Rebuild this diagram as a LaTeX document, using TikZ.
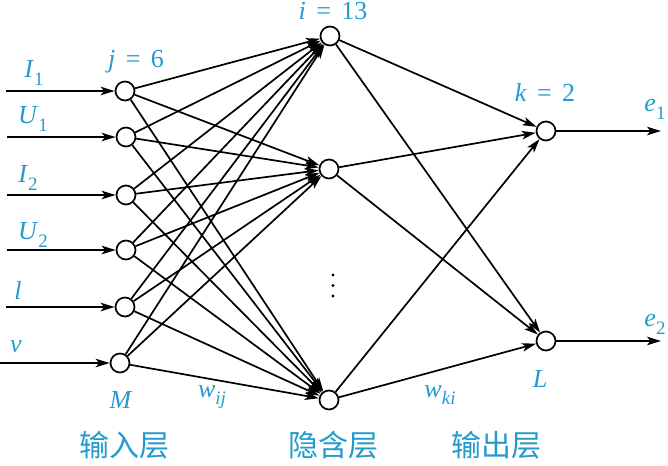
\documentclass[tikz,border=0pt]{standalone}
\usepackage{fontspec}
\setmainfont{Liberation Serif}
\newfontfamily\cjk{Noto Sans CJK SC}
\usetikzlibrary{arrows.meta}
\definecolor{lblc}{RGB}{35,155,205}
\newcommand{\lsub}[2]{\textit{#1}\raisebox{-0.3em}{\fontsize{19}{19}\selectfont #2}}
\newcommand{\lbleqn}[2]{\textit{#1}\hspace{0.4em}=\hspace{0.4em}#2}
\tikzset{
  neuron/.style={circle,draw,line width=1.7pt,minimum size=19pt,inner sep=0pt,fill=white},
  conn/.style={line width=1.7pt,-{Stealth[length=14pt,width=8.5pt,inset=3.5pt]}},
  lbl/.style={text=lblc,font=\fontsize{26}{30}\selectfont,inner sep=0pt},
  cjklbl/.style={text=lblc,font=\cjk\fontsize{30}{34}\selectfont,inner sep=0pt}
}
\begin{document}
\begin{tikzpicture}[x=1pt,y=-1pt]
\useasboundingbox (0,0) rectangle (668,465);
% input nodes
\node[neuron] (in1) at (125,91) {};
\node[neuron] (in2) at (126,137) {};
\node[neuron] (in3) at (126,195) {};
\node[neuron] (in4) at (126,250) {};
\node[neuron] (in5) at (125,307) {};
\node[neuron] (in6) at (120,363) {};
% hidden nodes
\node[neuron] (h1) at (330,36) {};
\node[neuron] (h2) at (329,169) {};
\node[neuron] (h3) at (329,400) {};
% output nodes
\node[neuron] (o1) at (546,131) {};
\node[neuron] (o2) at (546,341) {};
% input free ends
\coordinate (s1) at (6,91);
\coordinate (s2) at (7,137);
\coordinate (s3) at (7,195);
\coordinate (s4) at (7,250);
\coordinate (s5) at (6,307);
\coordinate (s6) at (0,363);
\coordinate (e1) at (661,131);
\coordinate (e2) at (661,341);
\foreach \i in {1,...,6}{
  \draw[conn] (s\i) -- (in\i);
  \foreach \h in {1,2,3}{
    \draw[conn] (in\i) -- (h\h);
  }
}
\foreach \h in {1,2,3}{
  \foreach \o in {1,2}{
    \draw[conn] (h\h) -- (o\o);
  }
}
\draw[conn] (o1) -- (e1);
\draw[conn] (o2) -- (e2);
% vertical dots
\fill (333,275) circle (1.7pt);
\fill (333,285.5) circle (1.7pt);
\fill (333,296) circle (1.7pt);
% labels
\node[lbl] (lI1) at (34,73) {\lsub{I}{1}};
\node[lbl] (lU1) at (33,119) {\lsub{U}{1}};
\node[lbl] (lI2) at (28,178) {\lsub{I}{2}};
\node[lbl] (lU2) at (33,235) {\lsub{U}{2}};
\node[lbl] (ll) at (18,290) {\textit{l}};
\node[lbl] (lv) at (16,347) {\textit{v}};
\node[lbl] (lM) at (121,400) {\textit{M}};
\node[lbl] (lj) at (136,62) {\lbleqn{j}{6}};
\node[lbl] (li) at (333,11) {\lbleqn{i}{13}};
\node[lbl] (lk) at (545,92) {\lbleqn{k}{2}};
\node[lbl] (le1) at (655,109) {\lsub{e}{1}};
\node[lbl] (le2) at (655,324) {\lsub{e}{2}};
\node[lbl] (lL) at (540,379) {\textit{L}};
\node[lbl] (lwij) at (212,397) {\lsub{w}{\textit{ij}}};
\node[lbl] (lwki) at (440,395) {\lsub{w}{\textit{ki}}};
\node[cjklbl] (t1) at (124,445) {输入层};
\node[cjklbl] (t2) at (333,445) {隐含层};
\node[cjklbl] (t3) at (496,445) {输出层};
\end{tikzpicture}
\end{document}
